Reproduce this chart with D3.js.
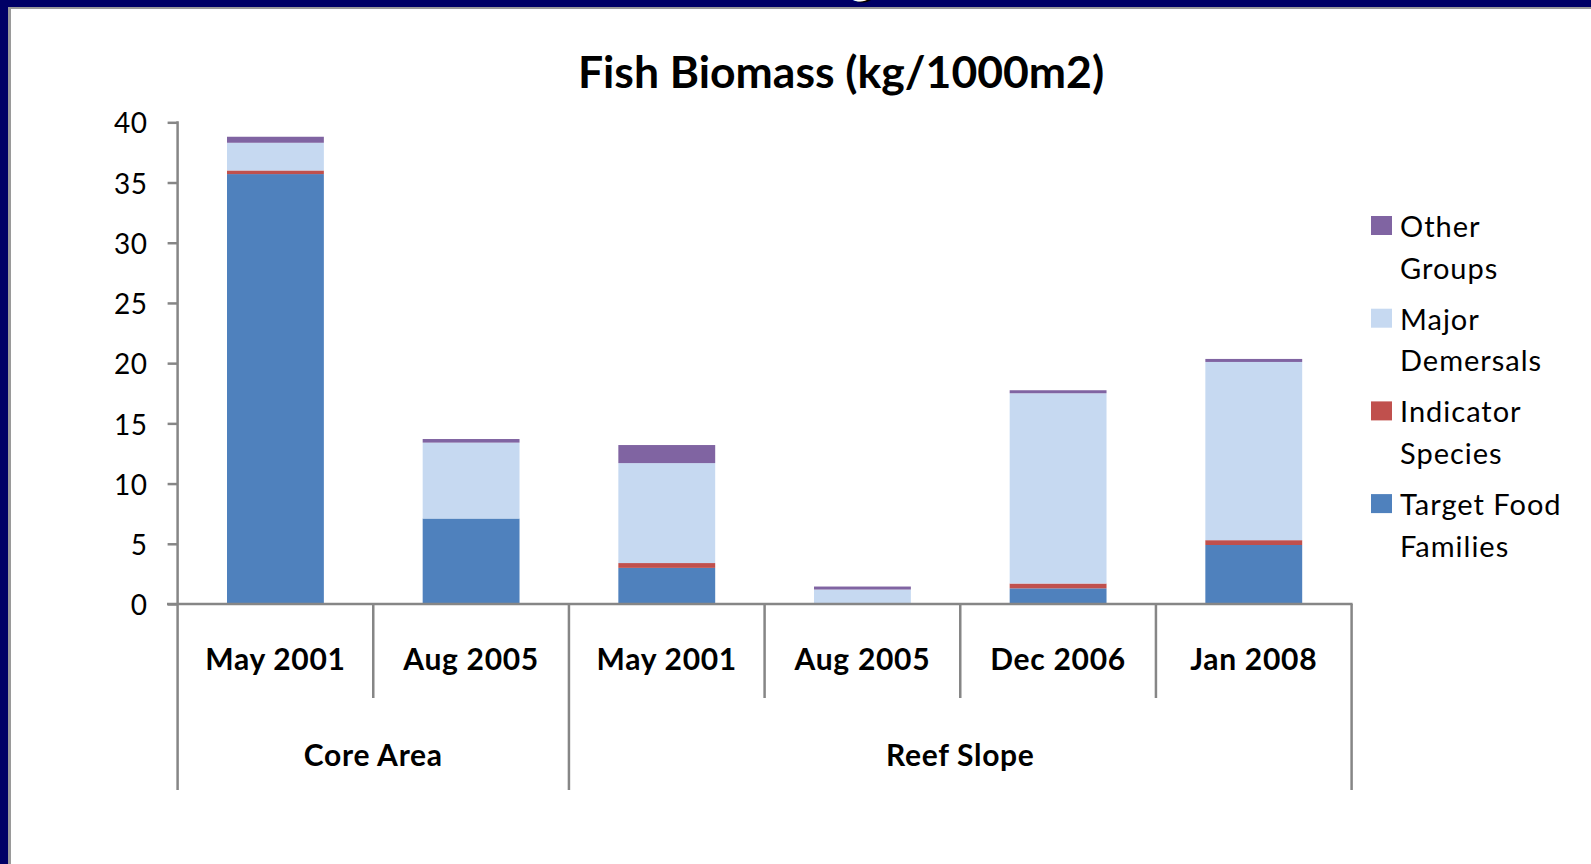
<!DOCTYPE html>
<html>
<head>
<meta charset="utf-8">
<script src="https://cdn.jsdelivr.net/npm/d3@7"></script>
<style>
  html, body { margin: 0; padding: 0; background: #fff; }
  svg { display: block; font-family: Lato, "Open Sans", sans-serif; }
</style>
</head>
<body>
<div id="graphic"></div>
<script>
// data
var periods = ["May 2001", "Aug 2005", "May 2001", "Aug 2005", "Dec 2006", "Jan 2008"];
var sites = ["Core Area", "Core Area", "Reef Slope", "Reef Slope", "Reef Slope", "Reef Slope"];
var targetFood = [35.7, 7.1, 3.0, 0.0, 1.3, 4.9];
var indicatorSp = [0.3, 0.0, 0.4, 0.0, 0.4, 0.4];
var majorDem = [2.3, 6.3, 8.3, 1.2, 15.8, 14.8];
var otherGroups = [0.5, 0.3, 1.5, 0.25, 0.25, 0.25];
var seriesKeys = ["target", "indicator", "major", "other"];
var seriesLabels = [["Target Food", "Families"], ["Indicator", "Species"], ["Major", "Demersals"], ["Other", "Groups"]];
var seriesColors = ["#4f81bd", "#c0504d", "#c6d9f1", "#8064a2"];
var yTicks = [0, 5, 10, 15, 20, 25, 30, 35, 40];

var width = 1591, height = 864;
var axisColor = "#868686";

var svg = d3.select("#graphic").append("svg")
  .attr("width", width)
  .attr("height", height);

// slide frame
svg.append("rect").attr("x", 0).attr("y", 0).attr("width", width).attr("height", 7).attr("fill", "#000066");
svg.append("rect").attr("x", 0).attr("y", 0).attr("width", 8).attr("height", height).attr("fill", "#000066");
svg.append("rect").attr("x", 8).attr("y", 7).attr("width", width - 8).attr("height", 2).attr("fill", "#9a9a9a");
svg.append("rect").attr("x", 8).attr("y", 7).attr("width", 3).attr("height", height - 7).attr("fill", "#9a9a9a");
// cut off slide heading above the picture
svg.append("text").attr("x", 852).attr("y", -5).attr("font-size", 44).attr("font-weight", "bold")
  .attr("fill", "#000").text("g");
svg.append("text").attr("x", 849).attr("y", -6).attr("font-size", 44).attr("font-weight", "bold")
  .attr("fill", "#fff").text("g");

var rows = periods.map(function(p, i) {
  return {i: i, target: targetFood[i], indicator: indicatorSp[i], major: majorDem[i], other: otherGroups[i]};
});

var x = d3.scaleBand()
  .domain(d3.range(periods.length))
  .range([177.6, 1351.6])
  .padding(0);

var y = d3.scaleLinear()
  .domain([0, 40])
  .range([604, 122.3]);

var stack = d3.stack().keys(seriesKeys);
var layers = stack(rows);

// bars
var barW = x.bandwidth() * 0.495;
svg.append("g").selectAll("g")
  .data(layers)
  .enter().append("g")
  .attr("fill", function(d, k) { return seriesColors[k]; })
  .selectAll("rect")
  .data(function(d) { return d; })
  .enter().append("rect")
  .attr("x", function(d) { return x(d.data.i) + (x.bandwidth() - barW) / 2; })
  .attr("y", function(d) { return y(d[1]); })
  .attr("width", barW)
  .attr("height", function(d) { return y(d[0]) - y(d[1]); });

// y axis
var yAxis = svg.append("g")
  .attr("transform", "translate(177.6,0)")
  .call(d3.axisLeft(y).tickValues(yTicks).tickSize(10).tickSizeOuter(0).tickPadding(20));
yAxis.select(".domain").remove();
yAxis.selectAll(".tick line").attr("stroke", axisColor).attr("stroke-width", 2.5);
yAxis.selectAll(".tick text")
  .attr("font-size", 28)
  .attr("font-family", "Lato, sans-serif")
  .attr("letter-spacing", 0.5)
  .attr("fill", "#000")
  .attr("dy", "0.38em");

svg.append("line")
  .attr("x1", 177.6).attr("x2", 177.6)
  .attr("y1", y(40) - 1).attr("y2", 790)
  .attr("stroke", axisColor).attr("stroke-width", 2.5);

// x axis: period labels
var xAxis = svg.append("g")
  .attr("transform", "translate(0," + y(0) + ")")
  .call(d3.axisBottom(x).tickSize(0).tickPadding(45).tickFormat(function(i) { return periods[i]; }));
xAxis.select(".domain").remove();
xAxis.selectAll(".tick text")
  .attr("font-size", 30)
  .attr("letter-spacing", 0.7)
  .attr("font-weight", "bold")
  .attr("font-family", "Lato, sans-serif")
  .attr("fill", "#000");

svg.append("line")
  .attr("x1", 167).attr("x2", x.range()[1] + 1)
  .attr("y1", y(0)).attr("y2", y(0))
  .attr("stroke", axisColor).attr("stroke-width", 2.5);

// category separators
var bounds = d3.range(periods.length + 1);
svg.append("g").selectAll("line")
  .data(bounds.slice(1))
  .enter().append("line")
  .attr("x1", function(i) { return i < periods.length ? x(i) : x.range()[1]; })
  .attr("x2", function(i) { return i < periods.length ? x(i) : x.range()[1]; })
  .attr("y1", y(0))
  .attr("y2", function(i) { return (i === periods.length || sites[i] !== sites[i - 1]) ? 790 : 698; })
  .attr("stroke", axisColor)
  .attr("stroke-width", 2.5);

// site labels
var siteGroups = [];
sites.forEach(function(s, i) {
  var last = siteGroups[siteGroups.length - 1];
  if (last && last.name === s) last.end = i;
  else siteGroups.push({name: s, start: i, end: i});
});
svg.append("g").selectAll("text")
  .data(siteGroups)
  .enter().append("text")
  .attr("x", function(d) { return (x(d.start) + x(d.end) + x.bandwidth()) / 2; })
  .attr("y", 766)
  .attr("text-anchor", "middle")
  .attr("font-size", 30)
  .attr("letter-spacing", 0.7)
  .attr("font-weight", "bold")
  .text(function(d) { return d.name; });

// title
svg.append("text")
  .attr("x", 841)
  .attr("y", 88)
  .attr("text-anchor", "middle")
  .attr("font-size", 44.5)
  .attr("font-weight", "bold")
  .text("Fish Biomass (kg/1000m2)");

// legend, top entry is the top of the stack
var legend = svg.append("g").attr("transform", "translate(1371,237)");
var order = [3, 2, 1, 0];
order.forEach(function(k, j) {
  var g = legend.append("g").attr("transform", "translate(0," + (j * 92.7) + ")");
  g.append("rect")
    .attr("x", 0).attr("y", -21)
    .attr("width", 21).attr("height", 19)
    .attr("fill", seriesColors[k]);
  g.append("text")
    .attr("x", 29)
    .attr("font-size", 29)
    .attr("letter-spacing", 1)
    .selectAll("tspan")
    .data(seriesLabels[k])
    .enter().append("tspan")
    .attr("x", 29)
    .attr("y", function(d, n) { return n * 41.5; })
    .text(function(d) { return d; });
});
</script>
</body>
</html>
